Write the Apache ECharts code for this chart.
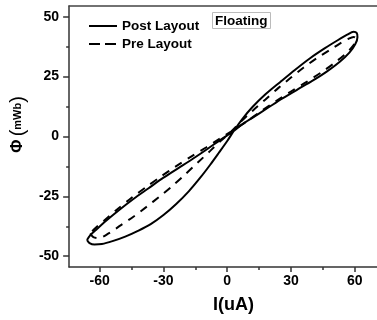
<!DOCTYPE html>
<html>
<head>
<meta charset="utf-8">
<script src="https://cdn.jsdelivr.net/npm/echarts@6/dist/echarts.min.js"></script>
<style>
  html, body { margin: 0; padding: 0; background: #fff; }
  #chart { width: 377px; height: 320px; }
</style>
</head>
<body>
<div id="chart"></div>
<script>
// Flux–current pinched hysteresis loops (memristor emulator, floating configuration)
const seriesNames = ['Post Layout', 'Pre Layout'];

// Post-layout loop: I (uA), Φ (mWb)
const postLayout = [
  [-66, -43.2], [-64.8, -44.5], [-62.5, -45.1], [-59, -44.9], [-54, -43.7], [-48, -41.8],
  [-42, -39.4], [-36, -36.6], [-30, -32.8], [-24, -28.2], [-18, -22.8], [-12.5, -17],
  [-8, -11.8], [-4, -6.9], [0, -1.9], [3, 2.2], [7, 7.2], [12, 12.4], [18, 17.6], [25, 22.8],
  [32, 27.9], [39, 32.7], [46, 36.9], [52, 40.2], [56.5, 42.5], [59.5, 43.7], [61, 43.2],
  [61.3, 41.5], [60.3, 38.6], [57.5, 35], [53, 31.2], [47, 27.2], [40, 23.2],
  [33, 19.6], [26, 15.9], [19, 11.9], [12, 7.9], [7, 5], [3, 2.2],
  [-3, -1.3], [-9, -5], [-16, -9.2], [-23, -13.2], [-30, -17.2], [-37, -21.6],
  [-44, -26], [-51, -30.8], [-57, -35.2], [-61.5, -38.8], [-64.5, -41.3], [-66, -43.2]
];

// Pre-layout loop: I (uA), Φ (mWb)
const preLayout = [
  [-64.5, -40.5], [-63, -42], [-60.5, -42.4], [-56, -40.6], [-50, -37], [-44, -33.4],
  [-38, -29.4], [-32, -25.2], [-26, -20.8], [-20, -16], [-14, -11], [-8, -6],
  [-3, -1.8], [2, 2.2], [6, 5.8], [12, 10.8], [18, 15.5], [24, 20.2], [30, 24.6],
  [36, 28.8], [42, 32.6], [48, 36], [53, 38.8], [57, 40.8], [59.5, 41.6], [60.5, 41],
  [60.3, 39.6], [59, 37.6], [55.5, 34.4], [50, 30.4], [44, 26.6], [37, 22.6],
  [30, 18.8], [23, 14.8], [16, 10.6], [9, 6.2], [2, 2.2],
  [-4, -1.2], [-10, -4.6], [-17, -8.4], [-24, -12.4], [-31, -16.6], [-38, -21],
  [-45, -25.6], [-52, -30.6], [-58, -35.2], [-62, -38.2], [-64.5, -40.5]
];

// Axis ticks and labels
const xLabels = [-60, -30, 0, 30, 60];
const xMinorTicks = [-45, -15, 15, 45];
const yLabels = [-50, -25, 0, 25, 50];
const yMinorTicks = [-37.5, -12.5, 12.5, 37.5];

const X_MIN = -74.4, X_MAX = 70.5;
const Y_MIN = -54.5, Y_MAX = 54.5;

const FONT = '"Liberation Sans", Arial, sans-serif';
const AXIS_COLOR = '#333';
const tickLine = { color: AXIS_COLOR, width: 1.5 };

const chart = echarts.init(document.getElementById('chart'), null, { renderer: 'canvas' });

chart.setOption({
  animation: false,
  backgroundColor: '#fff',
  color: ['#000', '#000'],
  textStyle: { fontFamily: FONT },
  grid: { left: 68, top: 6, right: 0, bottom: 53, show: false },
  title: {
    text: 'Floating',
    left: 212, top: 12,
    padding: [2, 3, 1, 3],
    borderColor: '#bbb', borderWidth: 1,
    textStyle: { fontFamily: FONT, fontSize: 13.5, fontWeight: 'bold', color: '#000' }
  },
  legend: {
    left: 83, top: 14, orient: 'vertical',
    itemWidth: 28, itemHeight: 14, itemGap: 4,
    itemStyle: { opacity: 0 },
    textStyle: { fontFamily: FONT, fontSize: 13.5, fontWeight: 'bold', color: '#000' },
    data: [
      { name: seriesNames[0], lineStyle: { width: 2, color: '#000', type: 'solid', opacity: 1 } },
      { name: seriesNames[1], lineStyle: { width: 2, color: '#000', type: [11, 5], opacity: 1 } }
    ]
  },
  xAxis: [{
    type: 'value', min: X_MIN, max: X_MAX,
    name: 'I(uA)', nameLocation: 'middle', nameGap: 29,
    nameTextStyle: { fontFamily: FONT, fontSize: 18, fontWeight: 'bold', color: '#000', padding: [0, 0, 0, 21] },
    axisLine: { show: true, onZero: false, lineStyle: tickLine },
    axisTick: { show: true, inside: false, length: 5, customValues: xLabels, lineStyle: tickLine },
    axisLabel: { customValues: xLabels, margin: 7, fontFamily: FONT, fontSize: 14, fontWeight: 'bold', color: '#000' },
    splitLine: { show: false }
  }, {
    type: 'value', min: X_MIN, max: X_MAX, position: 'bottom',
    axisLine: { show: false, onZero: false },
    axisTick: { show: true, inside: false, length: 3, customValues: xMinorTicks, lineStyle: tickLine },
    axisLabel: { show: false },
    splitLine: { show: false }
  }, {
    type: 'value', min: X_MIN, max: X_MAX, position: 'top',
    axisLine: { show: true, onZero: false, lineStyle: { color: '#444', width: 1.5 } },
    axisTick: { show: false },
    axisLabel: { show: false },
    splitLine: { show: false }
  }],
  yAxis: [{
    type: 'value', min: Y_MIN, max: Y_MAX,
    name: '{phi|Φ} {par|(}{unit|mWb}{par|)}', nameLocation: 'middle', nameGap: 37, nameRotate: 90,
    nameTextStyle: {
      padding: [0, 0, 0, 24],
      rich: {
        phi: { fontFamily: FONT, fontSize: 16, fontWeight: 'bold', color: '#000' },
        par: { fontFamily: FONT, fontSize: 20, color: '#000' },
        unit: { fontFamily: FONT, fontSize: 11, fontWeight: 'bold', color: '#000' }
      }
    },
    axisLine: { show: true, onZero: false, lineStyle: tickLine },
    axisTick: { show: true, inside: false, length: 6, customValues: yLabels, lineStyle: tickLine },
    axisLabel: { customValues: yLabels, margin: 10, fontFamily: FONT, fontSize: 14, fontWeight: 'bold', color: '#000' },
    splitLine: { show: false }
  }, {
    type: 'value', min: Y_MIN, max: Y_MAX, position: 'left',
    axisLine: { show: false, onZero: false },
    axisTick: { show: true, inside: false, length: 3, customValues: yMinorTicks, lineStyle: tickLine },
    axisLabel: { show: false },
    splitLine: { show: false }
  }],
  series: [{
    name: seriesNames[0], type: 'line', data: postLayout,
    xAxisIndex: 0, yAxisIndex: 0,
    showSymbol: false, symbol: 'none', smooth: 0.3,
    itemStyle: { color: '#000' },
    lineStyle: { color: '#000', width: 2, type: 'solid' }
  }, {
    name: seriesNames[1], type: 'line', data: preLayout,
    xAxisIndex: 0, yAxisIndex: 0,
    showSymbol: false, symbol: 'none', smooth: 0.3,
    itemStyle: { color: '#000' },
    lineStyle: { color: '#000', width: 2, type: [8, 7] }
  }]
});
</script>
</body>
</html>
